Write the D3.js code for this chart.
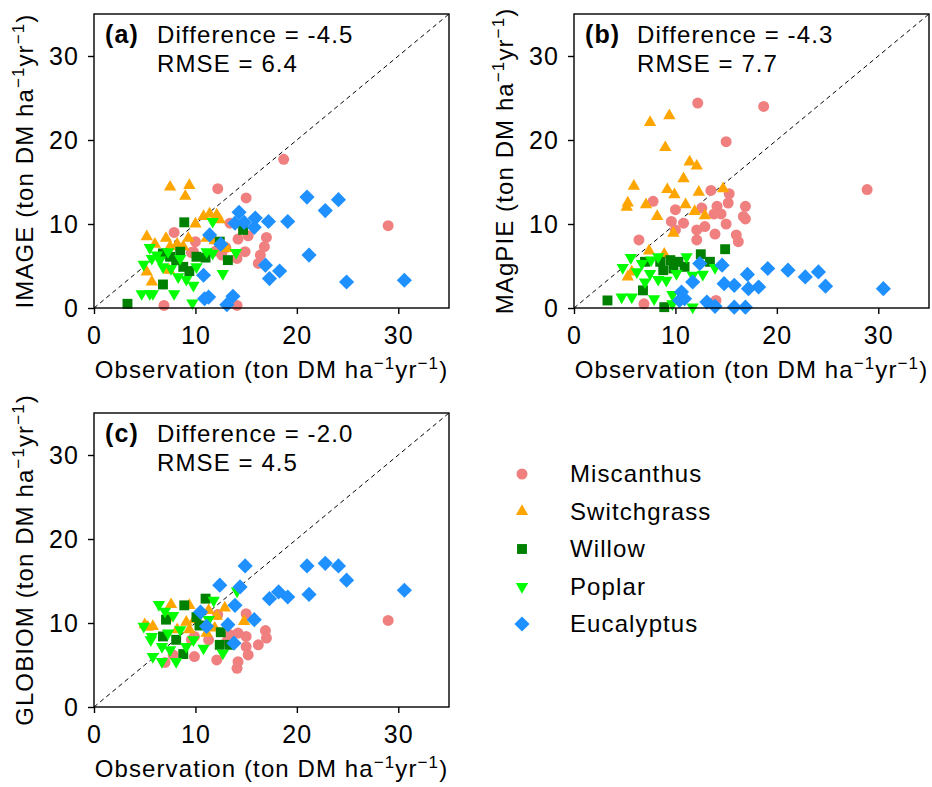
<!DOCTYPE html>
<html>
<head>
  <meta charset="utf-8">
  <title>Modelled vs observed yields</title>
  <script src="https://d3js.org/d3.v7.min.js"></script>
  <style>
    body { margin: 0; background: #fff; }
    svg { font-family: "Liberation Sans", Arial, sans-serif; }
    svg text { letter-spacing: 1.1px; }
  </style>
</head>
<body>
<div id="chart"></div>
<script>
// values: [observation, model] pairs per crop and model
const crops = ['Miscanthus', 'Switchgrass', 'Willow', 'Poplar', 'Eucalyptus'];

const imageMiscanthus = [[18.7,17.7],[12.2,14.2],[15.0,13.1],[29.0,9.8],[7.9,9.0],[13.4,10.1],[14.2,8.2],[15.2,8.6],[17.0,8.4],[16.8,7.3],[14.9,6.7],[16.4,6.3],[16.2,5.3],[14.1,5.9],[12.6,6.3],[9.8,6.7],[10.0,7.9],[6.9,0.3],[14.1,0.3],[12.0,6.8],[13.0,7.2],[9.6,6.6]];
const imageSwitchgrass = [[7.5,14.4],[9.4,14.6],[9.0,13.3],[10.8,10.9],[11.4,11.2],[12.1,11.1],[12.4,10.5],[10.0,10.0],[5.2,8.5],[6.0,7.6],[7.1,8.3],[8.2,7.6],[9.3,8.3],[11.1,8.3],[11.9,8.0],[13.1,7.1],[5.2,4.3],[5.7,3.1],[7.4,4.5],[7.5,7.3],[8.8,7.3]];
const imageWillow = [[3.3,0.5],[8.9,10.2],[6.8,2.8],[12.4,7.9],[11.0,6.0],[9.4,4.4],[8.8,4.9],[7.5,6.1],[8.1,5.7],[10.1,6.1],[13.2,5.7],[14.7,9.3],[6.8,6.5],[8.5,6.7]];
const imagePoplar = [[11.7,10.3],[4.7,1.7],[5.5,1.7],[5.8,1.7],[7.9,1.7],[9.7,0.6],[9.8,2.7],[12.7,4.1],[14.0,6.6],[4.9,5.2],[5.7,5.9],[6.2,6.3],[6.8,4.9],[7.6,4.7],[8.3,3.7],[9.1,3.4],[6.5,5.7],[7.3,6.7],[8.5,5.9],[10.1,4.9],[11.1,6.7],[11.7,6.5],[5.5,7.2]];
const imageEucalyptus = [[21.0,13.2],[24.1,12.9],[22.8,11.6],[19.1,10.3],[17.2,10.3],[15.9,10.7],[15.8,9.6],[14.3,11.4],[14.8,10.2],[13.9,10.1],[21.2,6.3],[24.9,3.1],[30.6,3.3],[16.9,5.1],[18.3,4.4],[17.3,3.5],[10.8,3.9],[10.9,1.1],[11.3,1.3],[13.7,1.4],[13.1,0.4],[12.5,7.6],[11.4,8.7]];

const magpieMiscanthus = [[12.2,24.4],[18.7,24.0],[15.0,19.8],[28.9,14.1],[7.8,12.7],[13.5,14.0],[15.3,13.6],[15.2,12.5],[16.9,12.1],[16.7,10.9],[16.9,10.6],[14.1,12.1],[13.8,11.2],[14.5,11.2],[15.0,10.0],[12.6,11.9],[10.0,11.7],[9.6,10.3],[10.8,10.1],[12.1,9.3],[12.9,9.7],[12.1,8.1],[13.9,8.8],[16.0,8.7],[16.2,7.9],[6.4,8.1],[6.9,0.5],[14.0,0.9],[10.0,9.3]];
const magpieSwitchgrass = [[7.5,22.1],[9.4,22.9],[9.0,19.1],[11.4,17.4],[12.1,16.9],[10.8,15.4],[5.9,14.5],[9.2,14.1],[9.9,13.5],[12.3,13.8],[14.7,14.2],[5.3,12.5],[5.2,12.0],[7.1,12.3],[8.2,10.9],[11.0,12.3],[11.9,11.5],[12.9,11.0],[9.8,8.9],[7.4,6.8],[8.9,6.4],[5.3,3.7],[5.7,4.3]];
const magpieWillow = [[3.3,0.9],[6.8,2.1],[8.9,0.1],[14.9,7.0],[12.5,6.4],[13.4,5.5],[9.5,5.7],[10.3,5.5],[10.9,4.9],[8.8,4.5],[7.0,5.5],[8.5,5.5],[9.8,4.7]];
const magpiePoplar = [[5.6,6.0],[4.8,4.8],[6.7,5.3],[7.6,5.7],[8.3,3.4],[9.1,3.3],[7.0,3.1],[4.7,1.3],[5.7,1.3],[7.9,1.1],[9.7,1.6],[9.7,0.5],[11.7,0.1],[11.1,6.1],[11.7,3.9],[12.7,4.0],[13.9,4.8],[8.3,6.1],[6.2,4.3],[7.5,4.1],[10.1,4.1]];
const magpieEucalyptus = [[19.1,4.7],[21.1,4.5],[22.8,3.7],[24.1,4.3],[24.8,2.6],[30.5,2.3],[17.1,4.0],[18.2,2.5],[17.2,2.3],[15.8,2.7],[14.8,2.9],[14.6,5.1],[12.4,5.3],[11.7,3.1],[10.6,1.9],[10.9,1.1],[13.1,0.7],[13.9,0.2],[15.8,0.1],[16.9,0.1],[10.4,0.9]];

const globiomMiscanthus = [[29.0,10.3],[15.0,11.1],[16.9,9.1],[17.0,8.2],[16.2,7.4],[15.0,8.4],[14.2,8.8],[15.0,7.2],[15.2,6.2],[14.2,5.4],[14.1,4.6],[12.1,5.6],[12.2,11.0],[9.9,8.4],[9.6,8.0],[9.9,6.0],[7.8,6.2],[7.0,5.3],[13.4,8.6],[13.1,7.8],[11.3,8.0]];
const globiomSwitchgrass = [[7.6,12.2],[9.4,12.1],[12.9,11.8],[12.1,10.8],[11.3,11.5],[5.0,9.8],[5.3,9.5],[5.8,9.6],[7.2,10.6],[8.2,9.2],[9.1,10.1],[9.9,10.4],[11.1,8.8],[11.9,9.4],[14.8,10.2],[9.4,9.2]];
const globiomWillow = [[8.9,12.1],[11.0,12.9],[7.1,10.4],[6.8,8.4],[8.8,6.3],[12.5,8.9],[12.4,7.4],[13.4,7.4],[10.4,9.7],[8.1,8.0],[10.1,10.7]];
const globiomPoplar = [[6.4,12.2],[14.1,13.8],[11.8,12.7],[7.0,11.4],[7.8,10.9],[4.9,9.6],[5.7,8.4],[5.6,8.0],[6.7,7.2],[5.8,6.0],[6.7,5.4],[8.1,5.4],[7.5,6.8],[9.1,7.2],[10.8,7.0],[11.3,10.4],[12.7,6.4],[8.5,9.2],[7.3,8.8],[9.8,8.0]];
const globiomEucalyptus = [[14.9,16.8],[21.0,16.8],[22.8,17.1],[24.1,16.8],[24.9,15.1],[30.6,13.9],[21.2,13.4],[18.2,13.7],[19.1,13.1],[17.3,12.9],[12.4,14.5],[14.4,14.3],[13.9,12.1],[15.8,10.4],[13.2,9.8],[10.5,11.3],[11.1,9.6],[13.8,7.6]];

const modelNames = ['IMAGE', 'MAgPIE', 'GLOBIOM'];
const panelLetters = ['(a)', '(b)', '(c)'];
const differences = ['-4.5', '-4.3', '-2.0'];
const rmses = ['6.4', '7.7', '4.5'];
const tickValues = [0, 10, 20, 30];
const axisMax = 35;

const modelData = [
  [imageMiscanthus, imageSwitchgrass, imageWillow, imagePoplar, imageEucalyptus],
  [magpieMiscanthus, magpieSwitchgrass, magpieWillow, magpiePoplar, magpieEucalyptus],
  [globiomMiscanthus, globiomSwitchgrass, globiomWillow, globiomPoplar, globiomEucalyptus]
];

// marker styles, same order as crops
const cropColors = ['#f08080', '#ffa500', '#008000', '#00ff00', '#1e90ff'];
const cropSymbols = [
  { type: d3.symbolCircle, size: 95, rotate: 0 },
  { type: d3.symbolTriangle, size: 66, rotate: 0 },
  { type: d3.symbolSquare, size: 98, rotate: 0 },
  { type: d3.symbolTriangle, size: 66, rotate: 180 },
  { type: d3.symbolSquare, size: 115, rotate: 45 }
];

// panel frames in pixels
const panelWidth = 355;
const panelHeight = 294;
const panelPos = [
  { left: 94, top: 14 },
  { left: 574, top: 14 },
  { left: 94, top: 413 }
];

const svg = d3.select('#chart')
  .append('svg')
  .attr('width', 932)
  .attr('height', 787);

svg.append('rect')
  .attr('width', 932)
  .attr('height', 787)
  .attr('fill', '#fff');

// axis label with superscript units
function unitLabel(text, name) {
  text.append('tspan').text(name + ' (ton DM ha');
  text.append('tspan').attr('dy', -9).attr('font-size', 17).text('\u22121');
  text.append('tspan').attr('dy', 9).text('yr');
  text.append('tspan').attr('dy', -9).attr('font-size', 17).text('\u22121');
  text.append('tspan').attr('dy', 9).text(')');
}

function symbolPath(i) {
  return d3.symbol().type(cropSymbols[i].type).size(cropSymbols[i].size)();
}

modelNames.forEach((model, p) => {
  const pos = panelPos[p];
  const g = svg.append('g')
    .attr('transform', `translate(${pos.left},${pos.top})`);

  const x = d3.scaleLinear().domain([0, axisMax]).range([0, panelWidth]);
  const y = d3.scaleLinear().domain([0, axisMax]).range([panelHeight, 0]);

  // 1:1 line
  g.append('line')
    .attr('x1', x(0)).attr('y1', y(0))
    .attr('x2', x(axisMax)).attr('y2', y(axisMax))
    .attr('stroke', '#000')
    .attr('stroke-width', 1)
    .attr('stroke-dasharray', '4.5,3.5');

  // points, one layer per crop
  crops.forEach((crop, i) => {
    g.append('g')
      .selectAll('path')
      .data(modelData[p][i])
      .enter()
      .append('path')
      .attr('d', symbolPath(i))
      .attr('transform', d => `translate(${x(d[0])},${y(d[1])}) rotate(${cropSymbols[i].rotate})`)
      .attr('fill', cropColors[i]);
  });

  // frame
  g.append('rect')
    .attr('width', panelWidth)
    .attr('height', panelHeight)
    .attr('fill', 'none')
    .attr('stroke', '#000')
    .attr('stroke-width', 1.4);

  // x axis
  const xAxis = g.append('g')
    .attr('transform', `translate(0,${panelHeight})`)
    .call(d3.axisBottom(x).tickValues(tickValues).tickSize(6).tickSizeOuter(0).tickPadding(12));

  // y axis
  const yAxis = g.append('g')
    .call(d3.axisLeft(y).tickValues(tickValues).tickSize(6).tickSizeOuter(0).tickPadding(9));

  [xAxis, yAxis].forEach(a => {
    a.select('.domain').remove();
    a.selectAll('line').attr('stroke-width', 1.4);
    a.selectAll('text')
      .attr('font-size', 25)
      .attr('font-family', '"Liberation Sans", Arial, sans-serif')
      .attr('fill', '#000');
  });

  // axis titles
  g.append('text')
    .attr('x', panelWidth / 2)
    .attr('y', panelHeight + 70)
    .attr('text-anchor', 'middle')
    .attr('font-size', 24)
    .call(unitLabel, 'Observation');

  g.append('text')
    .attr('transform', `translate(-69,${panelHeight / 2}) rotate(-90)`)
    .attr('text-anchor', 'middle')
    .attr('dy', '0.35em')
    .attr('font-size', 24)
    .call(unitLabel, model);

  // panel letter and statistics
  g.append('text')
    .attr('x', 11)
    .attr('y', 29)
    .attr('font-size', 25)
    .attr('font-weight', 'bold')
    .text(panelLetters[p]);

  g.append('text')
    .attr('x', 63)
    .attr('y', 29)
    .attr('font-size', 24)
    .text('Difference = ' + differences[p]);

  g.append('text')
    .attr('x', 63)
    .attr('y', 58)
    .attr('font-size', 24)
    .text('RMSE = ' + rmses[p]);
});

// legend
const legend = svg.append('g')
  .attr('transform', 'translate(522,474)');

crops.forEach((crop, i) => {
  const row = legend.append('g')
    .attr('transform', `translate(0,${i * 37.5})`);
  row.append('path')
    .attr('d', symbolPath(i))
    .attr('transform', `rotate(${cropSymbols[i].rotate})`)
    .attr('fill', cropColors[i]);
  row.append('text')
    .attr('x', 48)
    .attr('dy', '0.35em')
    .attr('font-size', 24)
    .text(crop);
});
</script>
</body>
</html>
